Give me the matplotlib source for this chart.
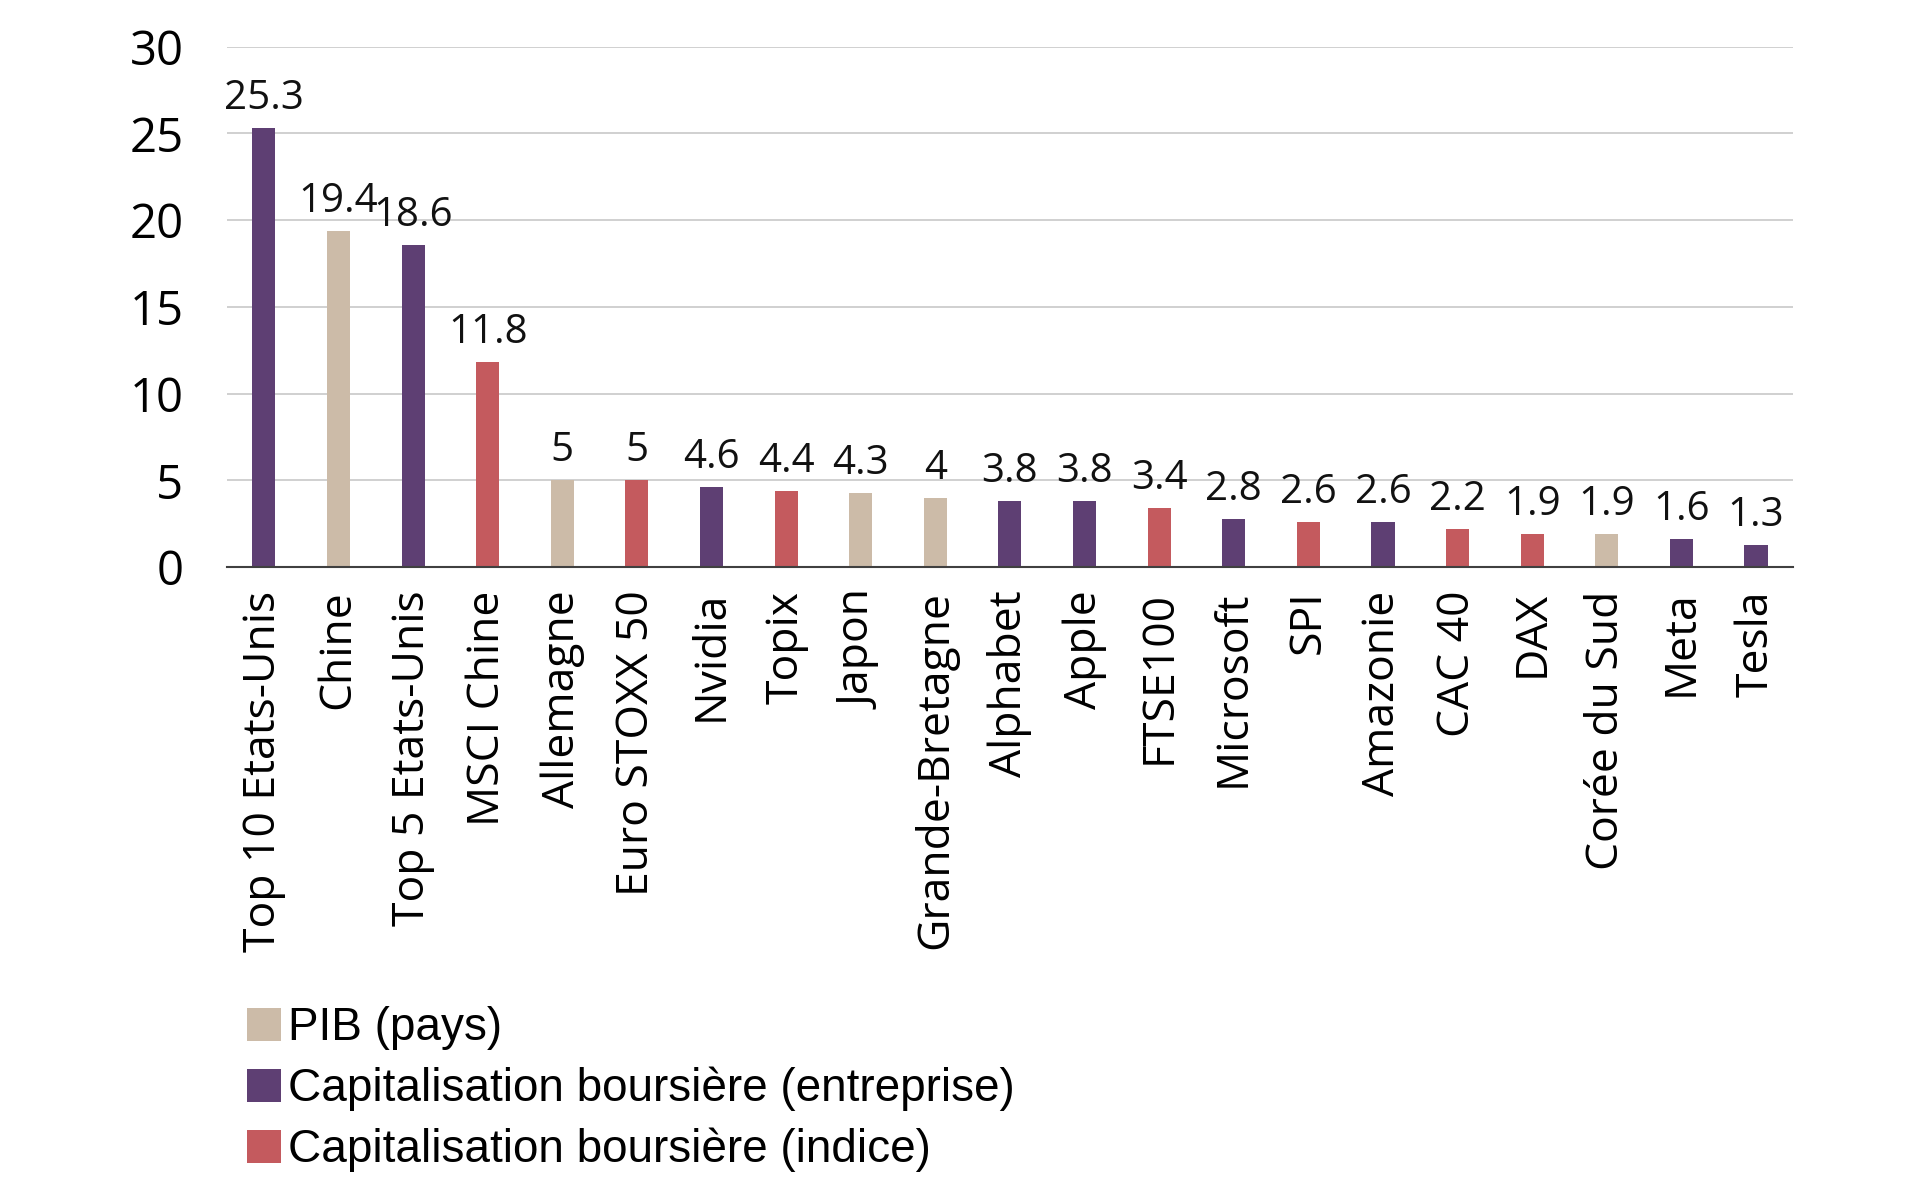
import matplotlib
matplotlib.use("Agg")
import matplotlib.pyplot as plt
from matplotlib.patches import Patch

categories = ["Top 10 Etats-Unis", "Chine", "Top 5 Etats-Unis", "MSCI Chine",
              "Allemagne", "Euro STOXX 50", "Nvidia", "Topix", "Japon",
              "Grande-Bretagne", "Alphabet", "Apple", "FTSE100", "Microsoft",
              "SPI", "Amazonie", "CAC 40", "DAX", "Corée du Sud", "Meta", "Tesla"]
values = [25.3, 19.4, 18.6, 11.8, 5, 5, 4.6, 4.4, 4.3, 4, 3.8, 3.8, 3.4, 2.8,
          2.6, 2.6, 2.2, 1.9, 1.9, 1.6, 1.3]
kinds = ["ent", "pib", "ent", "ind", "pib", "ind", "ent", "ind", "pib", "pib",
         "ent", "ent", "ind", "ent", "ind", "ent", "ind", "ind", "pib", "ent", "ent"]
value_labels = ["25.3", "19.4", "18.6", "11.8", "5", "5", "4.6", "4.4", "4.3", "4",
                "3.8", "3.8", "3.4", "2.8", "2.6", "2.6", "2.2", "1.9", "1.9", "1.6", "1.3"]

colors = {"pib": "#CCBBA8", "ent": "#5E3F73", "ind": "#C45A5E"}
legend_labels = {"pib": "PIB (pays)",
                 "ent": "Capitalisation boursière (entreprise)",
                 "ind": "Capitalisation boursière (indice)"}

plt.rcParams['font.family'] = ['Open Sans', 'DejaVu Sans']

fig = plt.figure(figsize=(19.2, 11.99), dpi=100)
ax = fig.add_axes([0.118, 0.527, 0.816, 0.434])

x = range(len(categories))
ax.bar(x, values, width=0.31, color=[colors[k] for k in kinds], zorder=3)

# value labels above bars
for xi, v, lab in zip(x, values, value_labels):
    ax.annotate(lab, (xi, v), xytext=(0, 9), textcoords="offset pixels",
                ha="center", va="bottom", fontsize=29, color="#111111")

ax.set_xlim(-0.5, len(categories) - 0.5)
ax.set_ylim(0, 30)
ax.set_yticks([0, 5, 10, 15, 20, 25, 30])
ax.set_xticks(list(x))
ax.set_xticklabels(categories, rotation=90, fontsize=32)
ax.tick_params(axis="x", length=0, pad=17)
ax.tick_params(axis="y", length=0, pad=31, labelsize=34)
ax.grid(axis="y", color="#C8C8C8", linewidth=1.2, zorder=0)
for s in ["left", "right", "top"]:
    ax.spines[s].set_visible(False)
ax.spines["bottom"].set_color("#404040")
ax.spines["bottom"].set_linewidth(1.5)
ax.spines["bottom"].set_zorder(4)

handles = [Patch(facecolor=colors[k], label=legend_labels[k]) for k in ["pib", "ent", "ind"]]
fig.legend(handles=handles, loc="upper left", bbox_to_anchor=(0.119, 0.176),
           frameon=False, handlelength=0.75, handleheight=0.75, handletextpad=0.15,
           labelspacing=0.36, borderaxespad=0,
           prop={"family": ["Liberation Sans", "DejaVu Sans"], "size": 33})

fig.savefig("out.png", dpi=100)
